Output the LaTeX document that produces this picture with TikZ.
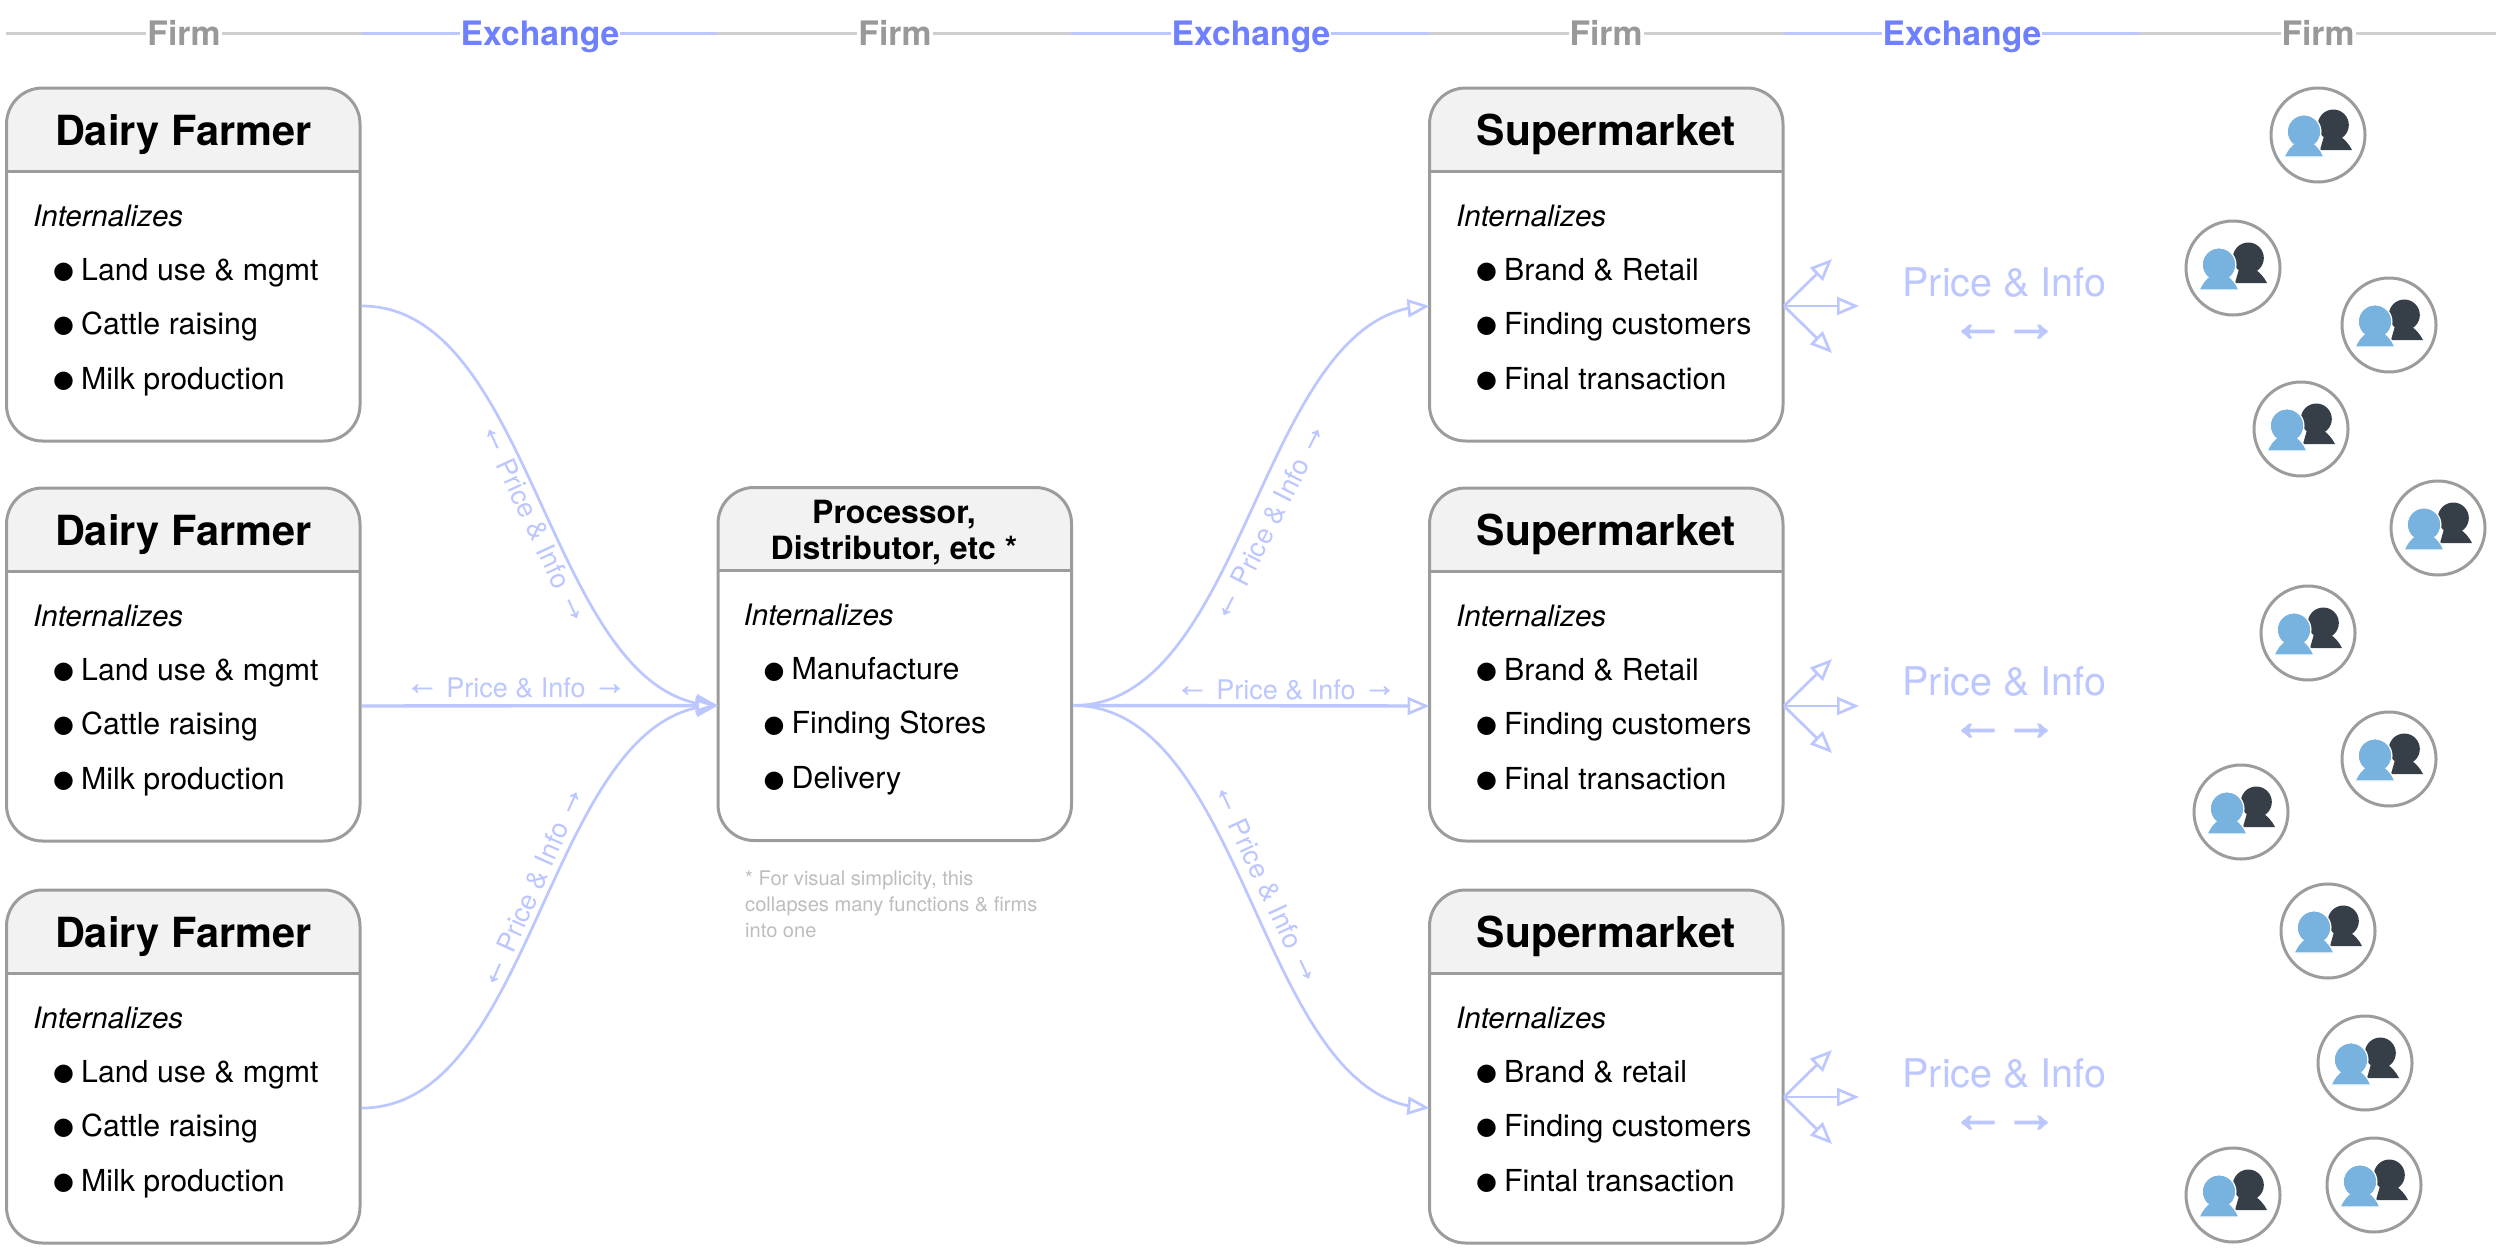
\documentclass[tikz,border=0pt]{standalone}
\usepackage{fontspec}
\setmainfont{TeX Gyre Heros}
\newfontfamily\arrowfont[FakeBold=1.6]{Liberation Sans}
\newfontfamily\bigarrowfont[FakeBold=2.6]{Liberation Sans}
\newfontfamily\dotfont{DejaVu Sans}
\usetikzlibrary{arrows.meta,bending,calc}
\definecolor{boxgray}{HTML}{9C9C9C}
\definecolor{hdr}{HTML}{F2F2F2}
\definecolor{rulegray}{HTML}{CFCFCF}
\definecolor{firmgray}{HTML}{999999}
\definecolor{exch}{HTML}{6F80FF}
\definecolor{flowc}{HTML}{BCC6FF}
\definecolor{note}{HTML}{BDBDBD}
\definecolor{pblue}{HTML}{78B3E0}
\definecolor{pdark}{HTML}{363E48}
\newcommand{\fs}[1]{\fontsize{#1}{#1}\selectfont}
\newcommand{\la}{\raisebox{3pt}{\arrowfont\fs{33}←}}
\newcommand{\ra}{\raisebox{3pt}{\arrowfont\fs{33}→}}
\tikzset{
  x=1pt,y=-1pt,
  firmbox/.style={draw=boxgray,line width=3,rounded corners=36,minimum width=353.5,minimum height=353,anchor=north west,inner sep=0,outer sep=0},
  boxtitle/.style={anchor=base,inner sep=0,font=\fs{41.5}\bfseries,text=black},
  proctitle/.style={anchor=base,inner sep=0,font=\fs{32}\bfseries,text=black},
  intern/.style={anchor=base west,inner sep=0,font=\fs{29.5}\itshape,text=black},
  item/.style={anchor=base west,inner sep=0,font=\fs{30.3},text=black},
  colhead/.style={anchor=base,fill=white,inner xsep=1,inner ysep=0,font=\fs{33.7}\bfseries,text=firmgray},
  exhead/.style={colhead,text=exch},
  toprule/.style={line width=3,rulegray},
  toprulex/.style={line width=3,flowc},
  flow/.style={draw=flowc,line width=2.7,-{Triangle[open,length=22,width=18,line width=2.7]}},
  flowthick/.style={flow,line width=3.4},
  flowlabel/.style={inner sep=0,font=\fs{27},text=flowc},
  biglabel/.style={anchor=base,inner sep=0,font=\fs{39.5},text=flowc},
  bigarrows/.style={anchor=base,inner sep=0,font=\fs{54}\bfseries,text=flowc},
  notelabel/.style={anchor=north west,inner sep=0,align=left,font=\fontsize{20.1}{26}\selectfont,text=note},
  pcircle/.style={circle,draw=boxgray,line width=3,minimum size=94,inner sep=0,outer sep=0},
}
\newcommand{\bulleted}[3]{%
  \node[item] (#1-dot) at (#2+46.5,#3-1.5) {\dotfont\fs{24}●};
  \node[item] (#1) at (#2+74.5,#3)}
\newcommand{\firmframe}[3]{%
  \begin{scope}
    \clip[rounded corners=36] (#2,#3) rectangle (#2+353.5,#3+353);
    \fill[hdr] (#2,#3) rectangle (#2+353.5,#3+83);
  \end{scope}
  \draw[boxgray,line width=3] (#2,#3+83) -- (#2+353.5,#3+83);
  \node[firmbox] (#1) at (#2,#3) {};
  \coordinate (#1-l) at (#2,#3+218);
  \coordinate (#1-r) at (#2+355.5,#3+218);
}
\newcommand{\firmbody}[6]{%
  \node[intern] (#1-i) at (#2+26.5,#3+138) {Internalizes};
  \bulleted{#1-a}{#2}{#3+192} {#4};
  \bulleted{#1-b}{#2}{#3+246} {#5};
  \bulleted{#1-c}{#2}{#3+301} {#6};
}
\newcommand{\firm}[7]{%
  \firmframe{#1}{#2}{#3}
  \node[boxtitle] (#1-t) at (#2+176.75,#3+57.5) {#4};
  \firmbody{#1}{#2}{#3}{#5}{#6}{#7}
}
\newcommand{\person}[3]{%
  \node[pcircle] (#1) at (#2,#3) {};
  \begin{scope}[shift={(#1.center)}]
    \fill[pdark] (15.3,-10) circle (15.5);
    \fill[pdark] (2,15) -- (34,15) .. controls (31,9) and (27,5) .. (22,1) -- (6,1) -- cycle;
    \draw[white,line width=1.4,fill=pblue] (-14,-3.3) circle (16.8);
    \draw[white,line width=1.2,fill=pblue] (-34,22) .. controls (-31,15) and (-27,10) .. (-22,7)
      -- (-6,7) .. controls (-1,10) and (3,15) .. (6,22) -- cycle;
    \fill[pblue] (-14,-3.3) circle (16);
    \fill[pblue] (-21,0) rectangle (-7,12);
  \end{scope}
}
\newcommand{\fan}[3]{%
  \coordinate (#1-o) at (#2,#3);
  \coordinate (#1-u) at (#2+48,#3-47);
  \coordinate (#1-m) at (#2+75,#3);
  \coordinate (#1-d) at (#2+48,#3+47);
  \draw[flow] (#1-o) -- (#1-u);
  \draw[flow] (#1-o) -- (#1-m);
  \draw[flow] (#1-o) -- (#1-d);
}
\newcommand{\bigpi}[3]{%
  \node[biglabel] (#1-w) at (2004.5,#2) {Price \& Info};
  \node[bigarrows] (#1-x) at (2004.5,#3) {\bigarrowfont ←\hspace{-1pt}→};
}
\begin{document}
\begin{tikzpicture}
\useasboundingbox (0,0) rectangle (2500,1258);
% top rule
\coordinate (r0) at (6,33); \coordinate (r1) at (362,33); \coordinate (r2) at (717,33);
\coordinate (r3) at (1071,33); \coordinate (r4) at (1429,33); \coordinate (r5) at (1784,33);
\coordinate (r6) at (2140,33); \coordinate (r7) at (2496,33);
\draw[toprule] (r0) -- (r1); \draw[toprulex] (r1) -- (r2); \draw[toprule] (r2) -- (r3);
\draw[toprulex] (r3) -- (r4); \draw[toprule] (r4) -- (r5); \draw[toprulex] (r5) -- (r6);
\draw[toprule] (r6) -- (r7);
\node[colhead] (h1) at (184,45) {Firm};
\node[exhead] (h2) at (540,45) {Exchange};
\node[colhead] (h3) at (895,45) {Firm};
\node[exhead] (h4) at (1251,45) {Exchange};
\node[colhead] (h5) at (1606,45) {Firm};
\node[exhead] (h6) at (1962,45) {Exchange};
\node[colhead] (h7) at (2318,45) {Firm};
% boxes
\firm{f1}{6.5}{88}{Dairy Farmer}{Land use \& mgmt}{Cattle raising}{Milk production}
\firm{f2}{6.5}{488}{Dairy Farmer}{Land use \& mgmt}{Cattle raising}{Milk production}
\firm{f3}{6.5}{890}{Dairy Farmer}{Land use \& mgmt}{Cattle raising}{Milk production}
\firmframe{m}{718}{487.5}
\firmbody{m}{717}{487.5}{Manufacture}{Finding Stores}{Delivery}
\node[proctitle] (m-t1) at (894,523) {Processor,};
\node[proctitle] (m-t2) at (894,559) {Distributor, etc *};
\firm{s1}{1429.5}{88}{\fs{42.5}Supermarket}{Brand \& Retail}{Finding customers}{Final transaction}
\firm{s2}{1429.5}{488}{\fs{42.5}Supermarket}{Brand \& Retail}{Finding customers}{Final transaction}
\firm{s3}{1429.5}{890}{\fs{42.5}Supermarket}{Brand \& retail}{Finding customers}{Fintal transaction}
\node[notelabel] (fn) at (745,870.5) {* For visual simplicity, this\\collapses many functions \& firms\\into one};
% flows
\draw[flow] (f1-r) .. controls +(175,0) and +(-170,0) .. (m-l);
\draw[flowthick] (f2-r) -- (m-l);
\draw[flow] (f3-r) .. controls +(175,0) and +(-170,0) .. (m-l);
\draw[flow] (m-r) .. controls +(175,0) and +(-170,0) .. (s1-l);
\draw[flowthick] (m-r) -- (s2-l);
\draw[flow] (m-r) .. controls +(175,0) and +(-170,0) .. (s3-l);
% flow labels
\node[flowlabel,rotate=-65] (l1) at (534,523.5) {\la{} Price \& Info \ra};
\node[flowlabel,anchor=base] (l2) at (516,697) {\la{} Price \& Info \ra};
\node[flowlabel,rotate=66] (l3) at (533,887) {\la{} Price \& Info \ra};
\node[flowlabel,rotate=63] (l4) at (1270,522) {\la{} Price \& Info \ra};
\node[flowlabel,anchor=base] (l5) at (1286,699) {\la{} Price \& Info \ra};
\node[flowlabel,rotate=-65] (l6) at (1266,884) {\la{} Price \& Info \ra};
% fans
\fan{a1}{1784}{306}
\fan{a2}{1784}{706}
\fan{a3}{1784}{1097}
\bigpi{b1}{296}{340.5}
\bigpi{b2}{695}{739.5}
\bigpi{b3}{1087}{1131.5}
% people
\person{p1}{2318}{135}
\person{p2}{2233}{268}
\person{p3}{2389}{325}
\person{p4}{2301}{429}
\person{p5}{2438}{528}
\person{p6}{2308}{633}
\person{p7}{2389}{759}
\person{p8}{2241}{812}
\person{p9}{2328}{931}
\person{p10}{2365}{1063}
\person{p11}{2374}{1185}
\person{p12}{2233}{1195}
\end{tikzpicture}
\end{document}
